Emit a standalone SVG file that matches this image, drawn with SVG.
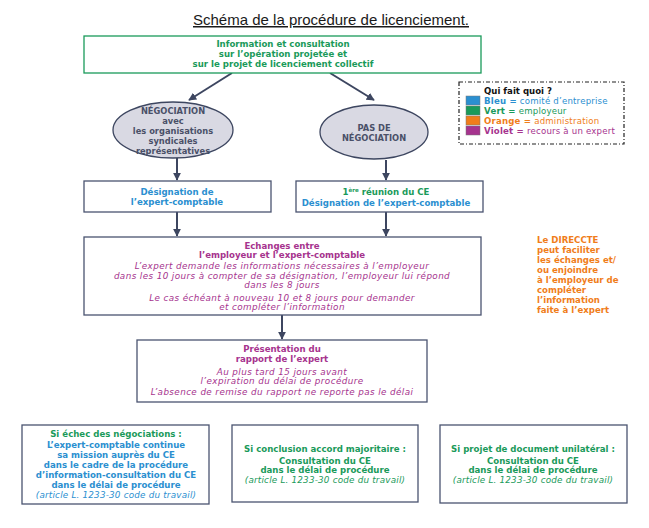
<svg xmlns="http://www.w3.org/2000/svg" width="649" height="528" viewBox="0 0 649 528">
<defs>
<marker id="ah" viewBox="0 0 10 10" refX="9" refY="5" markerWidth="4" markerHeight="4" orient="auto" markerUnits="strokeWidth">
<path d="M0,0 L10,5 L0,10 z" fill="#3d4660"/>
</marker>
<style>
text{font-family:"DejaVu Sans","Liberation Sans",Arial,sans-serif;text-anchor:middle;font-size:8.6px}
.b{font-weight:bold}
.i{font-style:italic;font-size:8.8px;letter-spacing:0.4px}
.r{letter-spacing:0.2px}
.g{fill:#1a9a5a}
.bl{fill:#2b8fd0}
.o{fill:#f07d1a}
.v{fill:#a6338e}
.s{fill:#4a5068;font-size:8.3px}
.box{fill:#fff;stroke:#4a5470;stroke-width:1.3}
.gbox{fill:#fff;stroke:#1a9a5a;stroke-width:1.3}
.ell{fill:#d9d9e3;stroke:#3d4660;stroke-width:1.3}
.con{stroke:#3d4660;stroke-width:2;fill:none;marker-end:url(#ah)}
.l{text-anchor:start}
</style>
</defs>
<rect width="649" height="528" fill="#fff"/>
<g id="title">
<text x="331" y="25" style="font-family:'Liberation Sans',Arial,sans-serif;font-size:15px" text-decoration="underline" fill="#1a1a1a">Schéma de la procédure de licenciement.</text>
</g>
<g id="connectors">
<line x1="232" y1="73" x2="189" y2="100" class="con"/>
<line x1="330" y1="73" x2="374" y2="100" class="con"/>
<line x1="177" y1="158" x2="177" y2="180" class="con"/>
<line x1="386" y1="160" x2="386" y2="180" class="con"/>
<line x1="177" y1="212" x2="177" y2="236" class="con"/>
<line x1="386" y1="212" x2="386" y2="236" class="con"/>
<line x1="282" y1="315" x2="282" y2="339" class="con"/>
</g>
<g id="info">
<rect x="84" y="36" width="397" height="37" class="gbox"/>
<text x="283" y="47" class="b g">Information et consultation</text>
<text x="283" y="57" class="b g">sur l’opération projetée et</text>
<text x="283" y="67" class="b g">sur le projet de licenciement collectif</text>
</g>
<g id="negociation">
<ellipse cx="173" cy="130" rx="60" ry="28" class="ell"/>
<text x="173" y="114" class="b s">NÉGOCIATION</text>
<text x="173" y="124" class="b s">avec</text>
<text x="173" y="134" class="b s">les organisations</text>
<text x="173" y="144" class="b s">syndicales</text>
<text x="173" y="153.500" class="b s">représentatives</text>
</g>
<g id="pasnegociation">
<ellipse cx="374" cy="132" rx="54" ry="27" class="ell"/>
<text x="374" y="131" class="b s">PAS DE</text>
<text x="374" y="141" class="b s">NÉGOCIATION</text>
</g>
<g id="legende">
<rect x="459" y="82" width="165" height="62" fill="#fff" stroke="#222" stroke-width="1.2" stroke-dasharray="4,2,1,2"/>
<text x="484" y="94" class="b l" fill="#111">Qui fait quoi ?</text>
<rect x="466" y="96" width="14" height="9" fill="#2b8fd0" stroke="#777" stroke-width="0.5"/>
<rect x="466" y="106" width="14" height="9" fill="#1a9a5a" stroke="#777" stroke-width="0.5"/>
<rect x="466" y="116" width="14" height="9" fill="#f07d1a" stroke="#777" stroke-width="0.5"/>
<rect x="466" y="126" width="14" height="9" fill="#a6338e" stroke="#777" stroke-width="0.5"/>
<text x="484" y="104" class="l bl r"><tspan class="b">Bleu =</tspan> comité d’entreprise</text>
<text x="484" y="114" class="l g r"><tspan class="b">Vert =</tspan> employeur</text>
<text x="484" y="124" class="l o r"><tspan class="b">Orange =</tspan> administration</text>
<text x="484" y="134" class="l v r"><tspan class="b">Violet =</tspan> recours à un expert</text>
</g>
<g id="designation">
<rect x="84" y="181" width="187" height="31" class="box"/>
<text x="177" y="195" class="b bl">Désignation de</text>
<text x="177" y="205" class="b bl">l’expert-comptable</text>
</g>
<g id="reunion">
<rect x="296" y="181" width="187" height="31" class="box"/>
<text x="386" y="195" class="b g">1<tspan dy="-3" style="font-size:5.5px">ère</tspan><tspan dy="3"> réunion du CE</tspan></text>
<text x="386" y="206" class="b bl">Désignation de l’expert-comptable</text>
</g>
<g id="echanges">
<rect x="84" y="237" width="397" height="78" class="box"/>
<text x="282" y="249" class="b v">Echanges entre</text>
<text x="282" y="258" class="b v">l’employeur et l’expert-comptable</text>
<text x="282" y="269" class="i v">L’expert demande les informations nécessaires à l’employeur</text>
<text x="282" y="279" class="i v">dans les 10 jours à compter de sa désignation, l’employeur lui répond</text>
<text x="282" y="288" class="i v">dans les 8 jours</text>
<text x="282" y="301" class="i v">Le cas échéant à nouveau 10 et 8 jours pour demander</text>
<text x="282" y="310" class="i v">et compléter l’information</text>
</g>
<g id="direccte">
<text x="537" y="243" class="b o l">Le DIRECCTE</text>
<text x="537" y="253" class="b o l">peut faciliter</text>
<text x="537" y="263" class="b o l">les échanges et/</text>
<text x="537" y="273" class="b o l">ou enjoindre</text>
<text x="537" y="283" class="b o l">à l’employeur de</text>
<text x="537" y="293" class="b o l">compléter</text>
<text x="537" y="303" class="b o l">l’information</text>
<text x="537" y="313" class="b o l">faite à l’expert</text>
</g>
<g id="presentation">
<rect x="137" y="340" width="290" height="62" class="box"/>
<text x="282" y="352" class="b v">Présentation du</text>
<text x="282" y="362" class="b v">rapport de l’expert</text>
<text x="282" y="375" class="i v">Au plus tard 15 jours avant</text>
<text x="282" y="384" class="i v">l’expiration du délai de procédure</text>
<text x="282" y="395" class="i v">L’absence de remise du rapport ne reporte pas le délai</text>
</g>
<g id="echec">
<rect x="22" y="425" width="187" height="79" class="box"/>
<text x="116" y="437" class="b g">Si échec des négociations :</text>
<text x="116" y="448" class="b bl">L’expert-comptable continue</text>
<text x="116" y="458" class="b bl">sa mission auprès du CE</text>
<text x="116" y="468" class="b bl">dans le cadre de la procédure</text>
<text x="116" y="478" class="b bl">d’information-consultation du CE</text>
<text x="116" y="488" class="b bl">dans le délai de procédure</text>
<text x="116" y="498" class="i bl" style="letter-spacing:0.2px">(article L. 1233-30 code du travail)</text>
</g>
<g id="accord">
<rect x="232" y="425" width="186" height="77" class="box"/>
<text x="325" y="452" class="b g">Si conclusion accord majoritaire :</text>
<text x="325" y="464" class="b g">Consultation du CE</text>
<text x="325" y="473" class="b g">dans le délai de procédure</text>
<text x="325" y="483" class="i g" style="letter-spacing:0.2px">(article L. 1233-30 code du travail)</text>
</g>
<g id="unilateral">
<rect x="440" y="425" width="187" height="78" class="box"/>
<text x="533" y="452" class="b g">Si projet de document unilatéral :</text>
<text x="533" y="464" class="b g">Consultation du CE</text>
<text x="533" y="473" class="b g">dans le délai de procédure</text>
<text x="533" y="483" class="i g" style="letter-spacing:0.2px">(article L. 1233-30 code du travail)</text>
</g>
</svg>
